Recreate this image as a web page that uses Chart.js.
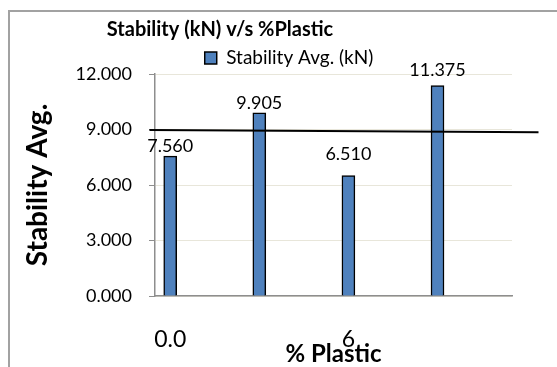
<!DOCTYPE html>
<html>
<head>
<meta charset="utf-8">
<script src="https://cdn.jsdelivr.net/npm/chart.js@4/dist/chart.umd.min.js"></script>
<style>
  html, body { margin: 0; padding: 0; background: #fff; overflow: hidden; width: 557px; height: 367px; }
  /* chart frame: only its top and left edges fall inside the page */
  #frame { position: absolute; left: 8px; top: 10px; width: 549px; height: 357px;
           border-top: 2px solid #a2a2a2; border-left: 2px solid #a2a2a2; box-sizing: border-box; }
  #wrap { position: absolute; left: 0; top: 0; width: 557px; height: 367px; }
</style>
</head>
<body>
<div id="frame"></div>
<div id="wrap"><canvas id="chart" width="557" height="367"></canvas></div>
<script>
// Marshall stability for each plastic content
const percentPlastic = [0, 3, 6, 9];
const stabilityAvg = [7.560, 9.905, 6.510, 11.375];

// axis ticks
const yTickValues = [0, 3, 6, 9, 12];
const xTickValues = [0, 6];
const xTickLabels = ['0.0', '6'];

// hand-drawn 9 kN reference line (ends in plastic % / kN)
const limitLineX = [-0.7, 12.4];
const limitLineY = [8.97, 8.85];

const FONT = 'Lato, "Liberation Sans", Arial, sans-serif';
Chart.defaults.font.family = FONT;
Chart.defaults.color = '#000';

// places the title and legend boxes horizontally (and nudges the legend down)
const headerPlacement = {
  id: 'headerPlacement',
  afterLayout(chart, args, opts) {
    const half = 260;
    const t = chart.titleBlock;
    if (t) {
      t.left = opts.titleCenterX - half;
      t.right = opts.titleCenterX + half;
      t.width = 2 * half;
    }
    const lg = chart.legend;
    if (lg) {
      lg.left = opts.legendCenterX - half;
      lg.right = opts.legendCenterX + half;
      lg.width = 2 * half;
      lg.top += opts.legendShift;
      lg.bottom += opts.legendShift;
    }
  }
};

// value labels above the bars
const valueLabels = {
  id: 'valueLabels',
  afterDatasetsDraw(chart, args, opts) {
    const meta = chart.getDatasetMeta(opts.datasetIndex);
    const values = chart.data.datasets[opts.datasetIndex].data;
    const ctx = chart.ctx;
    ctx.save();
    ctx.font = opts.font;
    ctx.fillStyle = opts.color;
    ctx.textAlign = 'center';
    ctx.textBaseline = 'middle';
    meta.data.forEach((bar, i) => {
      ctx.fillText(values[i].toFixed(3), bar.x, bar.y - opts.lift[i]);
    });
    ctx.restore();
  }
};

new Chart(document.getElementById('chart'), {
  type: 'bar',
  data: {
    labels: percentPlastic,
    datasets: [
      {
        type: 'line',
        label: 'Limit',
        data: limitLineX.map((x, i) => ({ x: x, y: limitLineY[i] })),
        borderColor: '#000',
        borderWidth: 2,
        pointRadius: 0,
        fill: false,
        clip: false,
        order: 0
      },
      {
        label: 'Stability Avg. (kN)',
        data: stabilityAvg,
        backgroundColor: '#4F81BD',
        borderColor: '#000',
        borderWidth: 1.5,
        barThickness: 13,
        order: 1
      }
    ]
  },
  plugins: [headerPlacement, valueLabels],
  options: {
    responsive: false,
    animation: false,
    devicePixelRatio: 1,
    layout: { padding: { left: 0, right: 45, top: 0, bottom: 0 } },
    scales: {
      x: {
        type: 'linear',
        offset: false,
        min: -0.512,
        max: 11.508,
        afterFit(scale) { scale.height = 71; },
        afterBuildTicks(scale) { scale.ticks = xTickValues.map(v => ({ value: v })); },
        grid: { display: false, drawTicks: false },
        border: { display: true, color: '#8e8e8e', width: 1.5 },
        ticks: {
          padding: 30,
          font: { size: 23 },
          color: '#000',
          callback: (v) => xTickLabels[xTickValues.indexOf(v)]
        },
        title: {
          display: true,
          text: '% Plastic',
          font: { size: 24, weight: 'bold', lineHeight: 1 },
          color: '#000',
          padding: { top: 0, bottom: 1 }
        }
      },
      y: {
        min: 0,
        max: 12,
        afterFit(scale) { scale.width = 155; },
        afterBuildTicks(scale) { scale.ticks = yTickValues.map(v => ({ value: v })); },
        grid: { color: '#e8e6da', lineWidth: 1, tickLength: 6, tickColor: '#8e8e8e' },
        border: { display: true, color: '#8e8e8e', width: 1.5 },
        ticks: {
          padding: 17,
          font: { size: 18 },
          color: '#000',
          callback: (v) => Number(v).toFixed(3)
        },
        title: {
          display: true,
          text: 'Stability Avg.',
          font: { size: 28, weight: 'bold', lineHeight: 1 },
          color: '#000',
          padding: { top: 24, bottom: 0 }
        }
      }
    },
    plugins: {
      title: {
        display: true,
        text: 'Stability (kN) v/s %Plastic',
        font: { size: 20, weight: 'bold', lineHeight: 1.2 },
        color: '#000',
        padding: { top: 18, bottom: 0 }
      },
      legend: {
        display: true,
        position: 'top',
        labels: {
          boxWidth: 12,
          boxHeight: 12,
          padding: 3,
          font: { size: 19 },
          color: '#000',
          filter: (item) => item.datasetIndex === 1
        }
      },
      tooltip: { enabled: false },
      headerPlacement: { titleCenterX: 220, legendCenterX: 289, legendShift: 3.5 },
      valueLabels: { datasetIndex: 1, font: '18px ' + FONT, color: '#000', lift: [10, 9.3, 21, 15.6] }
    }
  }
});
</script>
</body>
</html>
